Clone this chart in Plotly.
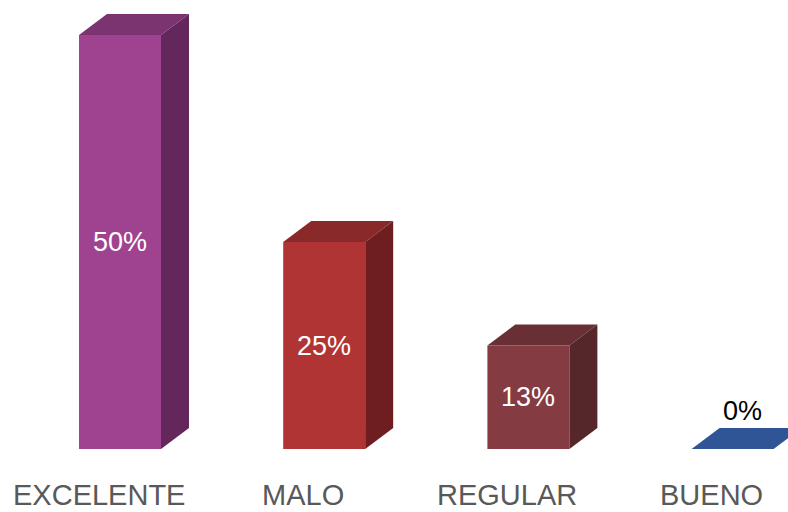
import plotly.graph_objects as go

categories = ["EXCELENTE", "MALO", "REGULAR", "BUENO"]
values = [50, 25, 12.5, 0]
value_labels = ["50%", "25%", "13%", "0%"]
front_colors = ["#9F4390", "#B03434", "#843C42", "#2F5597"]
top_colors = ["#7C3470", "#8A292A", "#682F34", "#2F5597"]
side_colors = ["#64275B", "#6E1E20", "#55262A", "#24447A"]

# geometry (axis units)
BAR_W = 0.4016
DX = 0.137   # depth offset along x
DY = 2.54    # depth offset along y

fig = go.Figure()

xs = list(range(len(categories)))
fig.add_trace(go.Bar(
    x=xs, y=values, width=BAR_W,
    marker=dict(color=front_colors, line=dict(width=0)),
    hoverinfo="skip", showlegend=False,
))

for i, v in enumerate(values):
    x0 = i - BAR_W / 2
    x1 = i + BAR_W / 2
    # top face
    fig.add_trace(go.Scatter(
        x=[x0, x1, x1 + DX, x0 + DX, x0],
        y=[v, v, v + DY, v + DY, v],
        fill="toself", fillcolor=top_colors[i], mode="lines",
        line=dict(width=0, color=top_colors[i]),
        hoverinfo="skip", showlegend=False,
    ))
    # side face
    if v > 0:
        fig.add_trace(go.Scatter(
            x=[x1, x1 + DX, x1 + DX, x1, x1],
            y=[0, DY, v + DY, v, 0],
            fill="toself", fillcolor=side_colors[i], mode="lines",
            line=dict(width=0, color=side_colors[i]),
            hoverinfo="skip", showlegend=False,
        ))

annotations = []
for i, (v, lab) in enumerate(zip(values, value_labels)):
    if v > 0:
        annotations.append(dict(
            x=i, y=v / 2, text=lab, showarrow=False,
            font=dict(family="Liberation Sans, Arial", size=27, color="#FFFFFF"),
            xanchor="center", yanchor="middle",
        ))
    else:
        annotations.append(dict(
            x=i + 0.05, y=v + DY + 2.0, text=lab, showarrow=False,
            font=dict(family="Liberation Sans, Arial", size=27, color="#000000"),
            xanchor="center", yanchor="middle",
        ))
    annotations.append(dict(
        x=i - 0.103, y=-5.55, text=categories[i], showarrow=False,
        font=dict(family="Liberation Sans, Arial", size=29, color="#595959"),
        xanchor="center", yanchor="middle", borderpad=0,
    ))

fig.update_layout(
    width=788, height=512,
    margin=dict(l=0, r=0, t=0, b=0),
    paper_bgcolor="white", plot_bgcolor="white",
    xaxis=dict(range=[-0.5877, 3.2713], visible=False, fixedrange=True),
    yaxis=dict(range=[-7.609, 54.23], visible=False, fixedrange=True),
    annotations=annotations,
    showlegend=False,
)

fig.write_html("out.html")
